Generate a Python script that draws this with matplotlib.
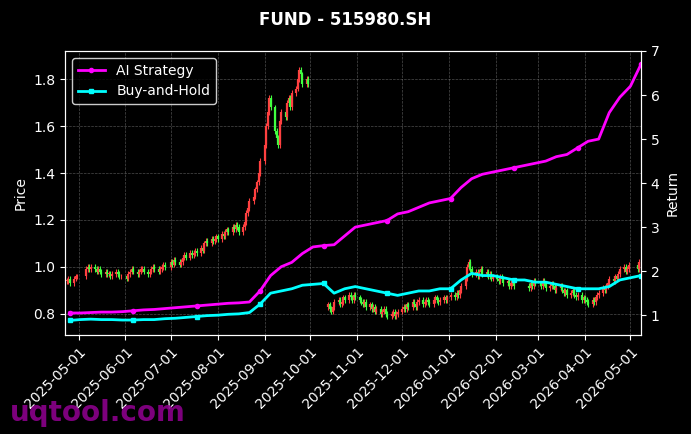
import matplotlib
matplotlib.use("Agg")
import matplotlib.pyplot as plt
import matplotlib.dates as mdates
import pandas as pd
import numpy as np

# daily closes, by segment (segment start date, values)
close_segments = [
    ("2025-04-23", [0.94,0.95,0.93,0.95,0.96,0.96]),
    ("2025-05-06", [0.99,1.00,0.99,1.00,0.99,0.98,0.99,0.98,0.97,0.98,0.97,0.97,0.96,0.97,0.98,0.97,0.96,0.96]),
    ("2025-06-02", [0.95,0.97,0.98,0.99,0.98,0.97,0.98,0.99,0.99,0.98,0.97,0.98,0.99,1.00,0.99,0.98,0.99,1.00,1.01,1.00]),
    ("2025-07-01", [1.02,1.01,1.03,1.02,1.01,1.02,1.04,1.05,1.04,1.06,1.05,1.06,1.07,1.06,1.08,1.07,1.10,1.11,1.10,1.12,1.11,1.12,1.13]),
    ("2025-08-01", [1.12,1.14,1.13,1.15,1.16,1.15,1.17,1.16,1.18,1.17,1.15,1.17,1.19,1.23,1.25,1.28,1.30,1.33,1.36,1.40,1.45]),
    ("2025-09-01", [1.52,1.60,1.66,1.72,1.68,1.58,1.55,1.52,1.62,1.66,1.64,1.70,1.72,1.68,1.74,1.76,1.80,1.84,1.82,1.78,1.80,1.78]),
    ("2025-10-13", [0.84,0.82,0.81,0.83,0.85,0.86,0.84,0.85,0.87,0.86,0.88,0.87,0.86,0.88,0.87]),
    ("2025-11-03", [0.86,0.85,0.84,0.85,0.83,0.84,0.82,0.83,0.81,0.82,0.80,0.81,0.82,0.80,0.79,0.80,0.81,0.79,0.80,0.81]),
    ("2025-12-01", [0.82,0.83,0.82,0.84,0.83,0.85,0.84,0.83,0.85,0.86,0.84,0.85,0.86,0.85,0.84,0.86,0.87,0.86,0.85,0.86,0.87,0.86,0.87]),
    ("2026-01-02", [0.88,0.87,0.89,0.88,0.90,0.92,0.95,1.00,1.02,0.99,0.97,0.98,0.96,0.98,0.99,0.97,0.98,0.96,0.97,0.95,0.96]),
    ("2026-02-02", [0.95,0.94,0.96,0.95,0.93,0.94,0.92,0.93,0.94,0.92]),
    ("2026-02-23", [0.91,0.93,0.92,0.94,0.93]),
    ("2026-03-02", [0.93,0.92,0.94,0.93,0.91,0.92,0.93,0.92,0.90,0.91,0.92,0.90,0.89,0.90,0.88,0.89,0.90,0.88,0.87,0.88,0.86,0.87]),
    ("2026-04-01", [0.86,0.85,0.84,0.86,0.85,0.87,0.88,0.89,0.91,0.90,0.92,0.93,0.95,0.94,0.96,0.95,0.97,0.99,1.00,0.98,0.99,1.01]),
    ("2026-05-06", [0.99,1.02]),
]

ret_start = "2025-04-25"
strategy_ret = [1.05, 1.05,1.06,1.07,1.07,1.08, 1.10,1.12,1.13,1.15, 1.17,1.19,1.21,1.23,
                1.25,1.27,1.28,1.30,1.55, 1.9,2.1,2.2,2.4, 2.55,2.58,2.6,2.8,3.0,
                3.05,3.1,3.15,3.3, 3.35,3.45,3.55,3.6, 3.65,3.9,4.1,4.2,4.25,
                4.3,4.35,4.4,4.45, 4.5,4.6,4.65,4.8, 4.95,5.0,5.6,5.95, 6.2,6.7]
bh_ret = [0.88, 0.90,0.91,0.90,0.90,0.89, 0.89,0.90,0.90,0.92, 0.93,0.95,0.97,0.99,
          1.0,1.02,1.03,1.06,1.25, 1.5,1.55,1.6,1.68, 1.7,1.72,1.5,1.6,1.65,
          1.6,1.55,1.5,1.45, 1.5,1.55,1.55,1.6, 1.6,1.8,1.95,1.9,1.9,
          1.85,1.8,1.8,1.75, 1.75,1.7,1.65,1.6, 1.6,1.6,1.65,1.8, 1.85,1.9]

dates, closes, opens = [], [], []
for start, vals in close_segments:
    d = pd.bdate_range(start, periods=len(vals))
    dates.extend(d); closes.extend(vals)
    prev = closes[-len(vals)-1] if len(closes) > len(vals) else vals[0]
    seg_open = [vals[0] - 0.01 if abs(prev - vals[0]) > 0.2 else prev] + vals[:-1]
    opens.extend(seg_open)
dates = pd.DatetimeIndex(dates)
closes = np.array(closes); opens = np.array(opens)
ret_dates = pd.date_range(ret_start, periods=len(strategy_ret), freq="W-FRI")

fig = plt.figure(figsize=(6.91, 4.34), dpi=100, facecolor="black")
ax = fig.add_axes([65/691, 1-335/434, 576/691, 284/434])
ax.set_facecolor("black")
up_c, dn_c = "#ff4040", "#40ff40"
for d, o, c in zip(dates, opens, closes):
    col = up_c if c >= o else dn_c
    lo, hi = min(o, c), max(o, c)
    ax.vlines(d, lo - 0.012, hi + 0.012, color=col, linewidth=0.8)
    ax.vlines(d, lo, max(hi, lo + 0.003), color=col, linewidth=1.6)
ax.set_ylim(0.71, 1.92)
ax.set_xlim(pd.Timestamp("2025-04-22"), pd.Timestamp("2026-05-08"))
ax.set_ylabel("Price", color="white")
ax.grid(True, color="gray", linestyle="--", linewidth=0.5, alpha=0.6)

ax2 = ax.twinx()
l1, = ax2.plot(ret_dates, strategy_ret, color="magenta", linewidth=2, marker="o", markersize=3, markevery=6, label="AI Strategy")
l2, = ax2.plot(ret_dates, bh_ret, color="cyan", linewidth=2, marker="s", markersize=3, markevery=6, label="Buy-and-Hold")
ax2.set_ylim(0.55, 7.0)
ax2.set_ylabel("Return", color="white")

for a in (ax, ax2):
    a.tick_params(colors="white")
    for s in a.spines.values():
        s.set_color("white")
ax.xaxis.set_major_locator(mdates.MonthLocator(bymonthday=1))
ax.xaxis.set_major_formatter(mdates.DateFormatter("%Y-%m-%d"))
plt.setp(ax.get_xticklabels(), rotation=45, ha="right", rotation_mode="anchor")

leg = ax.legend(handles=[l1, l2], loc="upper left", facecolor="black", edgecolor="white", labelcolor="white")
fig.suptitle("FUND - 515980.SH", color="white", fontweight="bold", fontsize=12, y=0.975)
fig.text(0.015, 0.03, "uqtool.com", color="#8b008b", fontsize=20, fontweight="bold", alpha=0.9)
fig.savefig("out.png", facecolor="black")
